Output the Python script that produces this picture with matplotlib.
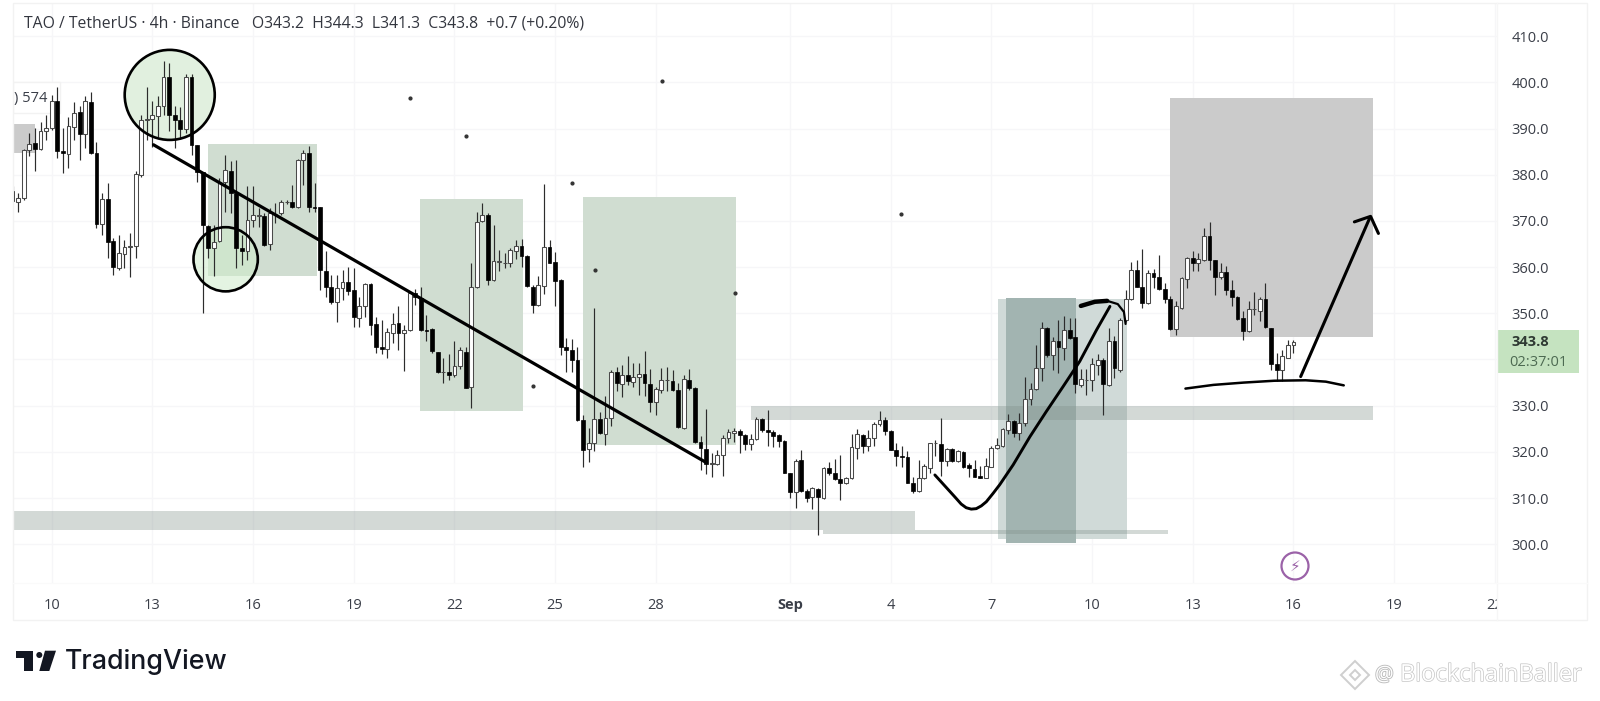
import numpy as np
import matplotlib
matplotlib.use('Agg')
import matplotlib.pyplot as plt
from matplotlib.patches import Rectangle, Ellipse, Polygon, Circle
import matplotlib.patheffects as pe

# 4h candles, first one is 7 bars before the "10" tick
opens = [376.4,374.1,374.9,385.4,386.8,385.5,389.4,390.1,395.9,385.2,
         384.5,390.3,393.6,388.8,395.8,384.8,369.3,374.7,365.6,359.9,
         362.9,364.4,364.5,380.0,391.9,392.1,392.7,394.8,401.2,393.0,
         391.9,389.9,401.1,386.5,380.6,369.0,364.1,365.7,378.5,380.9,
         376.0,364.1,363.4,370.2,371.1,371.1,365.0,371.4,371.7,374.0,
         374.1,373.1,383.1,384.8,373.0,373.0,359.1,355.7,352.4,355.4,
         356.7,355.0,348.9,351.5,356.3,347.6,342.8,342.2,345.8,347.9,
         345.8,346.3,354.5,353.3,346.3,346.6,341.7,337.3,337.2,336.7,
         338.5,341.7,334.1,355.6,369.9,371.3,357.2,361.2,360.8,361.0,
         363.5,364.5,362.5,355.8,351.8,356.0,364.3,361.1,357.2,342.8,
         342.1,339.9,326.8,320.6,321.9,327.1,323.9,327.3,337.4,334.7,
         336.7,335.2,336.2,336.8,334.7,330.7,333.4,335.5,335.4,333.4,
         325.1,335.6,333.8,322.2,320.6,317.4,317.4,319.3,323.0,324.0,
         324.6,323.7,321.7,322.7,327.1,324.8,324.3,323.7,322.4,315.4,
         311.3,318.3,311.6,310.3,312.0,310.0,316.5,315.4,314.2,313.2,
         314.3,320.9,323.7,321.3,323.0,326.1,326.9,324.6,320.4,319.0,
         318.8,313.2,311.5,314.3,316.6,321.9,321.7,318.0,320.6,318.0,
         320.0,317.1,316.3,314.8,314.4,316.8,320.8,321.2,324.8,326.7,
         324.0,326.3,331.4,333.6,338.1,346.8,341.0,344.1,342.5,346.4,
         344.8,334.5,335.5,335.6,338.8,339.9,334.5,343.9,337.8,348.6,
         353.0,359.3,355.8,352.2,358.7,357.9,355.3,353.1,346.6,351.1,
         357.5,362.0,360.9,361.6,366.7,361.5,357.9,358.9,355.1,353.5,
         349.0,346.1,350.9,350.6,353.0,346.8,339.1,337.8,340.3,343.2]
highs = [377.5,376.0,385.5,389.0,390.1,391.5,393.0,397.3,399.0,390.1,
         392.6,395.7,394.8,397.0,398.0,387.2,376.0,378.3,366.3,367.0,
         365.9,367.4,380.9,393.0,399.0,395.9,397.0,404.7,404.3,394.8,
         394.6,401.9,401.9,386.5,380.7,369.2,369.2,379.3,384.3,382.9,
         383.2,367.0,377.5,377.6,372.8,371.7,372.8,373.9,374.6,374.6,
         377.8,383.4,385.4,386.3,378.3,373.1,363.4,358.3,358.3,359.4,
         360.1,359.8,353.6,356.5,356.5,349.3,348.6,346.8,350.0,351.6,
         347.5,354.7,355.2,355.7,349.7,346.8,341.7,340.3,341.2,343.9,
         342.8,342.8,360.9,372.0,373.8,371.7,369.2,363.7,363.0,364.1,
         365.9,366.1,362.7,356.2,358.0,378.0,365.9,363.2,357.4,344.6,
         344.4,342.8,328.0,325.1,351.1,328.7,332.0,337.8,338.3,338.8,
         340.8,339.2,339.2,341.9,337.9,334.1,338.1,338.3,337.8,334.9,
         336.7,337.9,334.1,323.5,329.2,319.7,320.4,323.7,324.9,325.1,
         324.9,323.9,323.9,327.5,327.3,329.1,324.8,323.9,322.6,315.5,
         318.4,320.3,311.9,312.3,312.1,316.8,317.7,318.4,319.3,314.6,
         323.9,324.9,323.9,324.8,326.4,328.9,327.6,324.8,322.0,321.3,
         320.1,314.5,318.3,317.4,322.0,322.6,327.3,320.8,320.9,320.4,
         320.1,317.5,318.3,316.9,318.6,321.2,322.9,325.1,328.2,326.9,
         328.4,336.2,334.9,343.2,348.2,347.1,344.8,348.6,349.5,348.9,
         348.9,337.9,337.9,340.3,341.2,340.3,346.8,345.1,349.0,355.1,
         361.2,361.5,363.9,359.4,359.6,362.7,356.6,353.8,352.6,357.9,
         362.3,363.4,363.1,368.5,369.8,361.6,360.9,360.2,357.3,353.7,
         350.6,352.6,354.7,353.5,356.6,346.8,341.4,342.0,344.3,344.3]
lows = [374.1,372.0,374.6,384.0,380.9,385.4,387.6,389.7,383.6,380.3,
        381.4,387.6,383.1,385.8,384.5,368.4,367.0,361.9,358.3,359.4,
        359.8,357.8,361.9,379.6,387.6,386.1,388.1,393.0,389.4,385.8,
        387.9,389.0,384.3,378.5,350.0,361.9,358.0,365.5,372.0,371.7,
        359.8,360.5,361.6,368.8,368.8,364.6,363.7,369.5,371.3,373.6,
        372.8,372.8,377.8,371.9,372.0,355.1,353.6,352.0,348.2,352.9,
        354.0,347.1,347.0,349.3,345.3,341.4,341.2,340.3,343.5,342.1,
        337.5,346.1,351.8,346.2,343.9,341.5,337.0,334.9,335.6,336.3,
        337.9,333.8,329.4,355.4,369.7,356.2,357.1,359.1,359.8,360.1,
        361.7,360.1,355.8,350.0,351.6,354.2,360.9,351.6,341.0,337.4,
        337.4,326.6,316.7,317.9,320.1,323.9,321.5,325.6,333.1,331.8,
        334.5,334.1,332.3,332.0,328.7,328.0,332.8,333.1,333.1,325.1,
        325.0,333.4,321.9,316.1,315.2,314.6,317.2,314.8,321.9,322.2,
        319.8,320.3,320.4,322.5,324.4,321.3,321.1,321.0,315.4,310.0,
        307.8,311.4,309.2,307.6,302.0,309.7,315.0,313.8,309.6,313.1,
        314.1,318.4,319.8,320.1,321.2,325.5,323.7,320.3,317.0,316.8,
        313.2,311.0,311.4,314.2,315.4,319.0,314.8,317.0,317.9,317.9,
        316.6,314.6,314.6,314.3,314.3,316.7,320.6,321.0,323.9,323.3,
        322.6,325.6,330.2,333.4,335.4,340.5,337.8,337.0,339.9,344.5,
        332.7,334.0,332.3,333.1,336.7,328.0,334.3,336.0,337.4,348.2,
        352.8,355.7,351.1,352.1,355.5,355.1,352.2,346.4,345.4,351.0,
        355.5,359.1,359.1,361.4,359.4,354.0,357.4,354.0,351.5,348.5,
        344.3,345.9,349.7,348.3,346.8,337.8,335.3,335.3,340.3,341.3]
closes = [374.4,374.9,385.4,386.7,385.5,389.5,390.1,395.9,385.2,384.7,
          390.6,393.3,388.9,395.9,384.7,369.3,374.7,365.5,360.1,363.0,
          364.3,364.5,380.2,391.9,392.1,392.9,394.8,401.2,392.9,391.9,
          389.9,401.2,386.5,380.6,369.2,364.1,365.5,378.5,381.1,376.0,
          364.1,363.4,370.2,371.2,371.2,364.8,371.7,371.5,374.1,374.1,
          373.1,383.1,384.7,373.1,372.9,359.3,355.7,352.4,355.4,356.7,
          354.9,349.1,351.6,356.3,347.5,342.8,342.2,345.9,347.7,345.8,
          346.4,354.4,353.5,346.3,346.2,341.9,337.2,337.4,336.7,338.5,
          342.1,333.9,355.6,369.7,371.2,357.2,361.4,361.3,360.9,363.7,
          364.5,362.5,355.9,351.8,356.2,364.3,361.0,357.1,342.8,342.1,
          339.9,326.8,320.4,321.9,327.1,324.0,327.4,337.4,334.9,336.7,
          335.4,336.3,336.9,334.9,330.7,333.6,335.6,335.6,333.4,325.3,
          335.7,333.8,322.2,320.8,317.4,317.5,319.3,323.1,324.2,324.6,
          323.7,321.7,322.7,327.1,324.8,324.2,323.5,322.4,315.5,311.4,
          318.1,311.6,309.9,312.1,310.2,316.5,315.4,314.1,313.3,314.3,
          321.0,323.8,321.2,323.0,326.1,326.8,324.6,320.4,319.0,318.9,
          313.3,311.5,314.3,317.0,321.9,322.0,318.0,320.6,318.0,320.1,
          316.8,316.5,314.6,314.4,316.9,320.9,321.4,324.9,326.7,324.0,
          326.3,331.4,333.6,338.1,346.9,341.0,344.1,342.7,346.4,344.6,
          334.7,335.7,335.6,339.0,339.9,334.7,343.9,338.1,348.6,353.1,
          359.3,355.8,352.2,358.7,357.9,355.3,353.0,346.6,351.5,357.6,
          362.0,360.9,361.8,366.7,361.5,357.9,358.9,355.1,353.5,348.8,
          346.2,350.9,351.0,353.0,347.0,339.1,337.8,340.7,343.1,343.8]

price_ticks = [300, 310, 320, 330, 340, 350, 360, 370, 380, 390, 400, 410]
date_pos = [0, 18, 36, 54, 72, 90, 108, 132, 150, 168, 186, 204, 222, 240, 258]
date_labels = ['10', '13', '16', '19', '22', '25', '28', 'Sep', '4', '7', '10', '13', '16', '19', '22']

# zones drawn on the chart: x0, x1, low, high in bars / price
green_zones = [(28.0, 47.4, 358.1, 386.7), (65.8, 84.3, 328.9, 374.7), (95.0, 122.4, 321.5, 375.1)]
grey_zones = [(-6.9, -3.0, 384.8, 391.0), (200.0, 236.3, 344.8, 396.7)]
bands = [(125.0, 236.3, 327.0, 330.0), (-6.9, 154.3, 303.0, 307.1), (137.9, 199.5, 302.2, 303.0)]
light_zone = (169.2, 192.2, 301.2, 353.0)
dark_zone = (170.6, 183.1, 300.3, 353.4)

trend_x = [18.2, 117.0]
trend_y = [386.5, 317.7]
curve_x = [157.9, 159.1, 160.3, 161.5, 162.6, 163.5, 164.4, 165.3, 166.2, 167.1, 168.3, 169.5, 171.9, 174.9, 177.8, 180.8, 183.8, 186.8, 189.2]
curve_y = [315.0, 313.4, 311.8, 310.2, 308.7, 307.9, 307.6, 307.7, 308.3, 309.2, 311.0, 312.9, 317.2, 323.3, 328.7, 334.1, 339.6, 346.4, 351.5]
hook_x = [184.0, 186.5, 188.7, 190.6, 191.7, 192.0]
hook_y = [351.6, 352.5, 352.7, 352.0, 350.3, 347.7]
base_x = [202.7, 207.7, 213.1, 218.6, 224.2, 227.8, 231.0]
base_y = [333.7, 334.5, 335.0, 335.4, 335.5, 335.2, 334.4]
arrow_x = [223.3, 235.7]
arrow_y = [336.3, 370.8]
head_x = [232.9, 235.8, 237.2]
head_y = [369.8, 371.0, 367.3]
dots_x = [64.0, 74.0, 93.1, 109.1, 151.9, 97.1, 122.1, 86.1]
dots_y = [396.7, 388.3, 378.2, 400.4, 371.5, 359.4, 354.5, 334.3]

plt.rcParams['font.family'] = ['Open Sans', 'DejaVu Sans']
W, H = 1600, 701
fig = plt.figure(figsize=(W / 100, H / 100), dpi=100, facecolor='white')
ax = fig.add_axes([13.5 / W, 1 - 583 / H, (1497 - 13.5) / W, 580 / H])
ax.set_xlim(-6.83, 258.4)
ax.set_ylim(291.6, 417.2)
for s in ax.spines.values():
    s.set_visible(False)
ax.set_axisbelow(True)
ax.grid(color='#f6f6f8', lw=1)
ax.set_xticks(date_pos)
ax.set_xticklabels(date_labels, fontsize=10.5, color='#3a3e48')
ax.set_yticks(price_ticks)
# the 340.0 label sits behind the last-price tag in the original
ax.set_yticklabels(['' if p == 340 else f'{p:.1f}' for p in price_ticks], fontsize=10.5, color='#3a3e48')
ax.yaxis.tick_right()
ax.tick_params(length=0)
ax.tick_params(axis='y', pad=10.5)
ax.tick_params(axis='x', pad=11)
ax.get_xticklabels()[7].set_fontweight('bold')

def box(z, **kw):
    ax.add_patch(Rectangle((z[0], z[2]), z[1] - z[0], z[3] - z[2], lw=0, **kw))

for z in green_zones:
    box(z, color='#d0ddd1', zorder=1)
for z in grey_zones:
    box(z, color='#cbcbcb', zorder=1)
box(light_zone, color='#d0dad8', zorder=1.1)
box(dark_zone, color='#a2b4b1', zorder=1.2)
for z in bands:
    box(z, color='#7f9089', alpha=0.34, zorder=1.3)

ax.add_patch(Ellipse((21.1, 397.3), 16.1, 19.5, fc='#e1f0df', ec='none', zorder=1.4))
ax.add_patch(Ellipse((31.1, 361.7), 11.5, 13.9, fc='#cfeccb', alpha=0.55, ec='none', zorder=1.4))

# legend chip cut off on the left
ax.add_patch(Rectangle((-6.9, 393.4), 8.4, 6.7, fc='white', ec='#f2f2f2', lw=1, zorder=1.5))
ax.text(-6.7, 396.6, ') 574', fontsize=10.5, color='#3a3e48', va='center', zorder=1.6)

x = np.arange(len(opens)) - 7
o, h, l, c = map(np.array, (opens, highs, lows, closes))
up = c >= o
ax.vlines(x, l, h, color='#2c2c2c', lw=0.85, zorder=3)
ax.bar(x[up], (c - o)[up], bottom=o[up], width=0.68, fc='white', ec='#4a4a4a', lw=0.75, zorder=4)
ax.bar(x[~up], (o - c)[~up], bottom=c[~up], width=0.68, fc='black', ec='black', lw=0.5, zorder=4)

ax.scatter(dots_x, dots_y, s=4, color='#333333', zorder=5)
ax.add_patch(Ellipse((21.1, 397.3), 16.1, 19.5, fc='none', ec='black', lw=1.9, zorder=6))
ax.add_patch(Ellipse((31.1, 361.7), 11.5, 13.9, fc='none', ec='black', lw=1.9, zorder=6))
ink = dict(color='black', solid_capstyle='round', solid_joinstyle='round', zorder=6)
ax.plot(trend_x, trend_y, lw=2.3, **ink)
ax.plot(curve_x, curve_y, lw=2.1, **ink)
ax.plot(hook_x[:3], hook_y[:3], lw=3.2, **ink)
ax.plot(hook_x[2:], hook_y[2:], lw=1.6, **ink)
ax.plot(base_x, base_y, lw=1.8, **ink)
ax.plot(arrow_x, arrow_y, lw=2.2, **ink)
ax.plot(head_x, head_y, lw=2.2, **ink)

# page furniture in pixel coordinates
ov = fig.add_axes([0, 0, 1, 1], facecolor='none')
ov.set_xlim(0, W)
ov.set_ylim(H, 0)
ov.axis('off')
ov.add_patch(Rectangle((13, 3), 1574, 617, fc='none', ec='#f2f2f2', lw=1))
ov.plot([1497, 1497], [3, 620], color='#f6f6f6', lw=1)
ov.plot([13, 1587], [583, 583], color='#fafafa', lw=1)
ov.add_patch(Rectangle((1498, 590), 14, 24, fc='white', ec='none'))  # cuts the last date label

ov.text(24, 23, 'TAO / TetherUS · 4h · Binance   O343.2  H344.3  L341.3  C343.8  +0.7 (+0.20%)',
        fontsize=11.3, color='#33363f', va='center')

ov.add_patch(Rectangle((1498, 330), 81, 43, fc='#c5e3c0', ec='none'))
ov.text(1511, 341.5, '343.8', fontsize=10.5, fontweight='bold', color='#2f3a33', va='center')
ov.text(1509, 362, '02:37:01', fontsize=10.5, color='#4d6a52', va='center')

ov.add_patch(Circle((1295, 566), 13.5, fc='none', ec='#9b62a8', lw=1.6))
ov.text(1295, 566, '⚡', fontsize=11, color='#9b62a8', ha='center', va='center', family='DejaVu Sans')

ov.add_patch(Polygon([(16, 650.7), (33.3, 650.7), (33.3, 671), (23.5, 671), (23.5, 657.5), (16, 657.5)], fc='#131722'))
ov.add_patch(Circle((39.3, 655), 3, fc='#131722'))
ov.add_patch(Polygon([(45, 650.7), (56, 650.7), (49.3, 671), (39.3, 671)], fc='#131722'))
ov.text(65, 662, 'TradingView', fontsize=19.3, fontweight='medium', family='Inter', color='#131722', va='center')

for cx, cy, r in [(1355, 675, 14), (1355, 675, 5)]:
    ov.add_patch(Polygon([(cx - r, cy), (cx, cy - r), (cx + r, cy), (cx, cy + r)], fc='white', ec='#cfcfcf', lw=1.4))
ov.text(1375, 675, '@', fontsize=15, color='white', va='center',
        path_effects=[pe.withStroke(linewidth=1.3, foreground='#bdbdbd')])
ov.text(1400, 675, 'BlockchainBaller', fontsize=17, color='white', va='center',
        path_effects=[pe.withStroke(linewidth=1.0, foreground='#c4c4c4')])

fig.savefig('out.png', dpi=100)
